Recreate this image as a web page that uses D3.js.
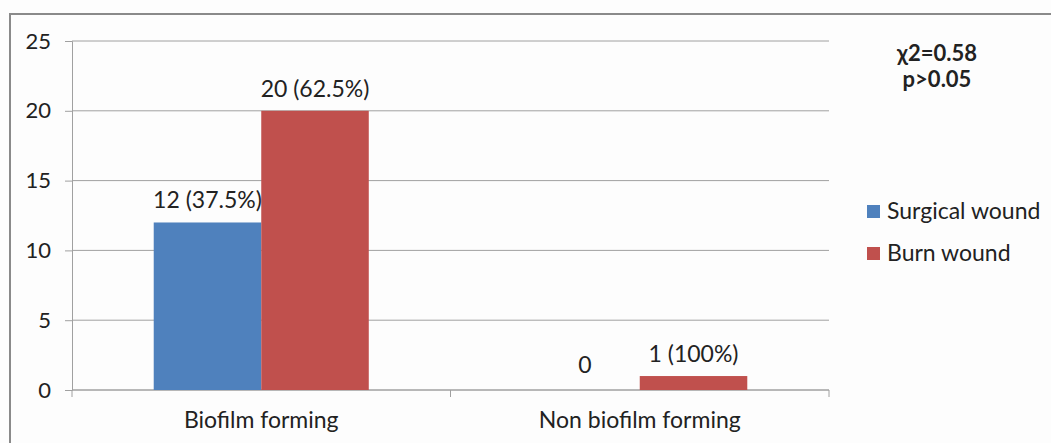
<!DOCTYPE html>
<html><head><meta charset="utf-8">
<script src="https://cdn.jsdelivr.net/npm/d3@7"></script>
<style>
html,body{margin:0;padding:0;background:#fff;}
svg{display:block;}
text{font-family:Lato,"Open Sans",sans-serif;fill:#222;}
</style></head>
<body>
<script>
const categories = ["Biofilm forming", "Non biofilm forming"];
const seriesNames = ["Surgical wound", "Burn wound"];
const surgical = [12, 0];
const burn = [20, 1];
const surgicalLabels = ["12 (37.5%)", "0"];
const burnLabels = ["20 (62.5%)", "1 (100%)"];
const yTicks = [0, 5, 10, 15, 20, 25];
const colors = ["#4f81bd", "#c0504d"];
const statLines = ["\u03c72=0.58", "p>0.05"];

(function(){
const W = 1051, H = 443;
const FS = 23;
const svg = d3.select("body").append("svg").attr("width", W).attr("height", H);
svg.append("rect").attr("width", W).attr("height", H).attr("fill", "#fdfdfd");
svg.append("path").attr("d", `M10,${H} V14 H${W}`).attr("fill","none").attr("stroke","#8a8a8a").attr("stroke-width",2);

const pL = 72, pR = 829, pT = 41, pB = 390;
const x0 = d3.scaleBand().domain(categories).range([pL, pR]).paddingInner(0).paddingOuter(0);
const x1 = d3.scaleBand().domain(seriesNames).range([0, x0.bandwidth()]).paddingOuter(0.76).paddingInner(0);
const y = d3.scaleLinear().domain([0, 25]).range([pB, pT]);

svg.append("g").selectAll("line").data(yTicks).join("line")
  .attr("x1", pL).attr("x2", pR).attr("y1", d=>y(d)).attr("y2", d=>y(d))
  .attr("stroke", "#a0a0a0").attr("stroke-width", 1);

const ya = svg.append("g").attr("transform", `translate(${pL},0)`)
  .call(d3.axisLeft(y).tickValues(yTicks).tickSize(7).tickPadding(14));
ya.select(".domain").attr("stroke","#a0a0a0");
ya.selectAll(".tick line").attr("stroke","#a0a0a0");
ya.selectAll("text").attr("font-size", 22).attr("font-family","Lato,'Open Sans',sans-serif").attr("fill","#222");

const xa = svg.append("g").attr("transform", `translate(0,${pB})`)
  .call(d3.axisBottom(x0).tickSize(0).tickPadding(22));
xa.select(".domain").remove();
xa.selectAll("text").attr("font-size", FS).attr("font-family","Lato,'Open Sans',sans-serif").attr("fill","#222");
svg.append("line").attr("x1",pL).attr("x2",pR).attr("y1",pB).attr("y2",pB).attr("stroke","#a0a0a0");
svg.append("g").selectAll("line").data([pL, x0(categories[1]), pR]).join("line")
  .attr("x1",d=>d).attr("x2",d=>d).attr("y1",pB).attr("y2",pB+7).attr("stroke","#a0a0a0");

const rows = categories.map((c,i)=>({cat:c, vals:[
  {s:seriesNames[0], v:surgical[i], lab:surgicalLabels[i], c:colors[0]},
  {s:seriesNames[1], v:burn[i], lab:burnLabels[i], c:colors[1]}]}));

const g = svg.append("g").selectAll("g").data(rows).join("g")
  .attr("transform", d=>`translate(${x0(d.cat)},0)`);
g.selectAll("rect").data(d=>d.vals).join("rect")
  .attr("x", d=>x1(d.s)).attr("width", x1.bandwidth())
  .attr("y", d=>y(d.v)).attr("height", d=>y(0)-y(d.v)).attr("fill", d=>d.c);
g.selectAll("text.lab").data(d=>d.vals).join("text").attr("class","lab")
  .attr("x", d=>x1(d.s)+x1.bandwidth()/2 + (d.v===0?-1:0))
  .attr("y", d=>y(d.v)-(d.v===0?17:14))
  .attr("text-anchor","middle").attr("font-size",FS).text(d=>d.lab);

const lg = svg.append("g").selectAll("g").data(seriesNames).join("g")
  .attr("transform",(d,i)=>`translate(867,${205+i*42})`);
lg.append("rect").attr("width",13).attr("height",13).attr("fill",(d,i)=>colors[i]);
lg.append("text").attr("x",20).attr("y",14).attr("font-size",FS).text(d=>d);

svg.append("g").selectAll("text").data(statLines).join("text")
  .attr("x",937).attr("y",(d,i)=>61+i*26).attr("text-anchor","middle")
  .attr("font-size",22).attr("font-weight","bold").text(d=>d);
})();
</script>
</body></html>
